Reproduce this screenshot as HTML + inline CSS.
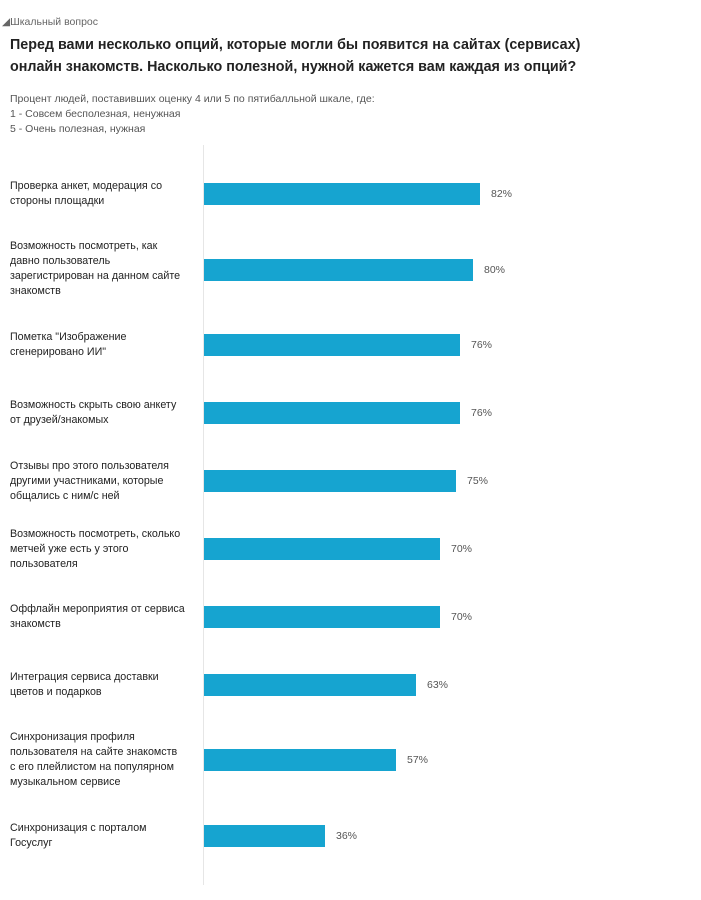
<!DOCTYPE html>
<html><head><meta charset="utf-8"><style>
body{margin:0;width:701px;height:900px;background:#fff;font-family:"Liberation Sans",sans-serif;position:relative;overflow:hidden}
.a{position:absolute;white-space:nowrap}
.lab{position:absolute;left:10px;font-size:10.7px;line-height:15px;color:#222}
.bar{position:absolute;left:204px;height:22px;background:#16a4d0}
.val{position:absolute;font-size:10.5px;color:#555;line-height:14px}
</style></head><body>
<div class="a" style="left:2px;top:16px;font-size:10.5px;color:#666">&#9698;Шкальный вопрос</div>
<div class="a" style="left:10px;top:34px;font-size:14.3px;font-weight:bold;color:#222;line-height:22px">Перед вами несколько опций, которые могли бы появится на сайтах (сервисах)<br>онлайн знакомств. Насколько полезной, нужной кажется вам каждая из опций?</div>
<div class="a" style="left:10px;top:92px;font-size:10.5px;color:#555;line-height:15px">Процент людей, поставивших оценку 4 или 5 по пятибалльной шкале, где:<br>1 - Совсем бесполезная, ненужная<br>5 - Очень полезная, нужная</div>
<div style="position:absolute;left:203px;top:145px;width:1px;height:740px;background:#e6e6e6"></div>

<div class="lab" style="top:179px">Проверка анкет, модерация со<br>стороны площадки</div>
<div class="bar" style="top:183px;width:276px"></div><div class="val" style="top:187px;left:491px">82%</div>

<div class="lab" style="top:239px">Возможность посмотреть, как<br>давно пользователь<br>зарегистрирован на данном сайте<br>знакомств</div>
<div class="bar" style="top:259px;width:269px"></div><div class="val" style="top:263px;left:484px">80%</div>

<div class="lab" style="top:330px">Пометка "Изображение<br>сгенерировано ИИ"</div>
<div class="bar" style="top:334px;width:256px"></div><div class="val" style="top:338px;left:471px">76%</div>

<div class="lab" style="top:398px">Возможность скрыть свою анкету<br>от друзей/знакомых</div>
<div class="bar" style="top:402px;width:256px"></div><div class="val" style="top:406px;left:471px">76%</div>

<div class="lab" style="top:459px">Отзывы про этого пользователя<br>другими участниками, которые<br>общались с ним/с ней</div>
<div class="bar" style="top:470px;width:252px"></div><div class="val" style="top:474px;left:467px">75%</div>

<div class="lab" style="top:527px">Возможность посмотреть, сколько<br>метчей уже есть у этого<br>пользователя</div>
<div class="bar" style="top:538px;width:236px"></div><div class="val" style="top:542px;left:451px">70%</div>

<div class="lab" style="top:602px">Оффлайн мероприятия от сервиса<br>знакомств</div>
<div class="bar" style="top:606px;width:236px"></div><div class="val" style="top:610px;left:451px">70%</div>

<div class="lab" style="top:670px">Интеграция сервиса доставки<br>цветов и подарков</div>
<div class="bar" style="top:674px;width:212px"></div><div class="val" style="top:678px;left:427px">63%</div>

<div class="lab" style="top:730px">Синхронизация профиля<br>пользователя на сайте знакомств<br>с его плейлистом на популярном<br>музыкальном сервисе</div>
<div class="bar" style="top:749px;width:192px"></div><div class="val" style="top:753px;left:407px">57%</div>

<div class="lab" style="top:821px">Синхронизация с порталом<br>Госуслуг</div>
<div class="bar" style="top:825px;width:121px"></div><div class="val" style="top:829px;left:336px">36%</div>
</body></html>
